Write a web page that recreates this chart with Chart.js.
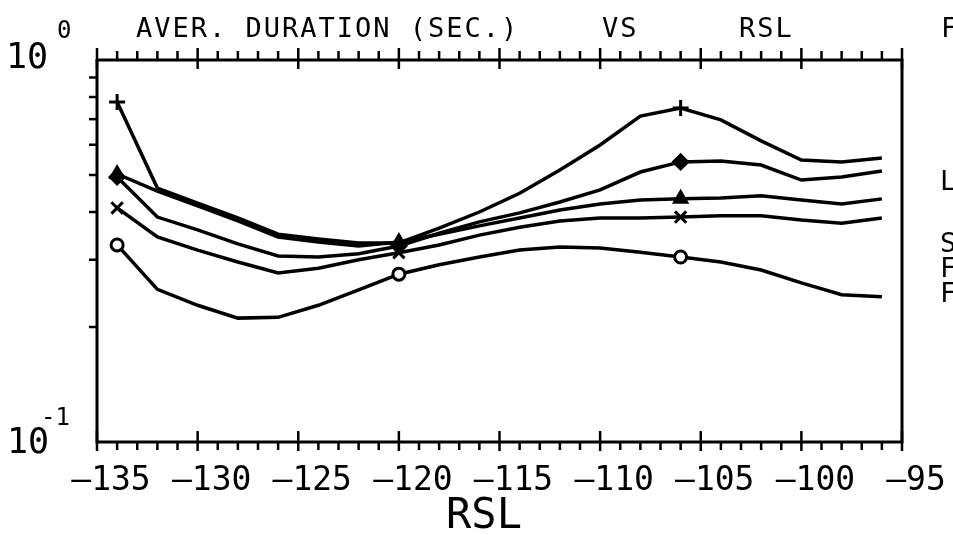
<!DOCTYPE html>
<html lang="en">
<head>
<meta charset="UTF-8">
<title>Aver. duration vs RSL</title>
<script src="https://cdn.jsdelivr.net/npm/chart.js"></script>
<style>
  html, body { margin: 0; padding: 0; background: #fff; }
  #wrap { width: 953px; height: 535px; }
</style>
</head>
<body>
<div id="wrap"><canvas id="durChart" width="953" height="535"></canvas></div>
<script>
// RSL values (x) where each curve has a vertex
const rsl = [-134, -132, -130, -128, -126, -124, -122, -120, -118, -116,
             -114, -112, -110, -108, -106, -104, -102, -100, -98, -96];

// average duration (sec.)
const plusCurve     = [0.776, 0.462, 0.422, 0.386, 0.350, 0.340, 0.332, 0.332, 0.363, 0.400,
                       0.448, 0.515, 0.599, 0.713, 0.749, 0.697, 0.614, 0.547, 0.541, 0.554];
const diamondCurve  = [0.494, 0.388, 0.359, 0.330, 0.307, 0.305, 0.311, 0.326, 0.352, 0.377,
                       0.398, 0.425, 0.457, 0.509, 0.541, 0.544, 0.531, 0.485, 0.494, 0.512];
const triangleCurve = [0.503, 0.454, 0.415, 0.379, 0.344, 0.334, 0.326, 0.334, 0.350, 0.368,
                       0.386, 0.405, 0.420, 0.430, 0.433, 0.435, 0.441, 0.430, 0.420, 0.433];
const crossCurve    = [0.410, 0.344, 0.318, 0.296, 0.277, 0.285, 0.300, 0.313, 0.328, 0.348,
                       0.365, 0.379, 0.386, 0.386, 0.388, 0.391, 0.391, 0.381, 0.374, 0.386];
const circleCurve   = [0.328, 0.251, 0.228, 0.211, 0.212, 0.228, 0.250, 0.275, 0.291, 0.305,
                       0.318, 0.324, 0.322, 0.314, 0.305, 0.296, 0.282, 0.261, 0.243, 0.240];

// symbols are only plotted at these RSL values
const markerAt = [-134, -120, -106];

const xTicks = [-135, -130, -125, -120, -115, -110, -105, -100, -95];
const yTicks = [0.1, 1];

function series(values, style, size, filled) {
    return {
        data: rsl.map((x, i) => ({ x: x, y: values[i] })),
        borderColor: '#000',
        borderWidth: 3.5,
        backgroundColor: filled ? '#000' : '#fff',
        pointStyle: style,
        pointBorderColor: '#000',
        pointBorderWidth: 3,
        pointRadius: rsl.map(x => markerAt.includes(x) ? size : 0),
        tension: 0,
        fill: false
    };
}

const mono = "'DejaVu Sans Mono', 'Liberation Mono', monospace";

const framePlugin = {
    id: 'frame',
    afterDraw(chart) {
        const ctx = chart.ctx;
        const a = chart.chartArea;
        const x = chart.scales.x;
        const y = chart.scales.y;
        ctx.save();
        ctx.strokeStyle = '#000';
        ctx.lineWidth = 3;
        ctx.beginPath();
        ctx.moveTo(a.left, a.top - 1);
        ctx.lineTo(a.left, a.bottom);
        ctx.lineTo(a.right, a.bottom);
        ctx.lineTo(a.right, a.top);
        ctx.lineTo(a.left, a.top);
        ctx.stroke();

        // x ticks, one per dB, top and bottom
        ctx.lineWidth = 2.5;
        for (let v = xTicks[0]; v <= xTicks[xTicks.length - 1]; v++) {
            const px = x.getPixelForValue(v);
            ctx.beginPath();
            if (xTicks.includes(v)) {
                ctx.moveTo(px, a.bottom - 11); ctx.lineTo(px, a.bottom + 9);
                ctx.moveTo(px, a.top - 12); ctx.lineTo(px, a.top + 9);
            } else {
                ctx.moveTo(px, a.bottom); ctx.lineTo(px, a.bottom + 8);
                ctx.moveTo(px, a.top - 9); ctx.lineTo(px, a.top);
            }
            ctx.stroke();
        }
        // y minor ticks (log)
        for (let k = 2; k <= 9; k++) {
            const py = y.getPixelForValue(k / 10);
            ctx.beginPath();
            ctx.moveTo(a.left - 8, py); ctx.lineTo(a.left, py);
            ctx.stroke();
        }

        ctx.fillStyle = '#000';
        ctx.textBaseline = 'alphabetic';
        ctx.textAlign = 'left';

        // y labels 10^0, 10^-1
        const p1 = y.getPixelForValue(yTicks[1]);
        const p0 = y.getPixelForValue(yTicks[0]);
        ctx.font = '35px ' + mono;
        ctx.fillText('10', 6, p1 + 8);
        ctx.fillText('10', 7, p0 + 11);
        ctx.font = '24px ' + mono;
        ctx.fillText('0', 57, p1 - 22);
        ctx.fillText('-1', 41, p0 - 17);

        // title line
        ctx.font = '27px ' + mono;
        ctx.letterSpacing = '2px';
        ctx.fillText('AVER. DURATION (SEC.)', 136, 37);
        ctx.fillText('VS', 602, 37);
        ctx.fillText('RSL', 739, 37);
        // right-hand notes, cut off at the page edge
        ctx.fillText('F', 941, 37);
        ctx.fillText('L', 940, 190);
        ctx.fillText('S', 940, 252);
        ctx.fillText('F', 940, 277);
        ctx.fillText('F', 940, 302);
        ctx.letterSpacing = '0px';

        // x axis title
        ctx.font = '42px ' + mono;
        ctx.textAlign = 'center';
        ctx.fillText('RSL', 484, 528);
        ctx.restore();
    }
};

new Chart(document.getElementById('durChart'), {
    type: 'line',
    data: {
        datasets: [
            series(plusCurve, 'cross', 8, false),
            series(diamondCurve, 'rectRot', 7, true),
            series(triangleCurve, 'triangle', 7, true),
            series(crossCurve, 'crossRot', 8, false),
            series(circleCurve, 'circle', 6, false)
        ]
    },
    options: {
        responsive: false,
        animation: false,
        devicePixelRatio: 1,
        layout: { padding: { top: 60, right: 51, left: 0, bottom: 0 } },
        plugins: { legend: { display: false }, tooltip: { enabled: false } },
        scales: {
            x: {
                type: 'linear',
                position: 'bottom',
                min: xTicks[0],
                max: xTicks[xTicks.length - 1],
                grid: { display: false },
                border: { display: false },
                afterBuildTicks: s => { s.ticks = xTicks.map(v => ({ value: v })); },
                ticks: {
                    autoSkip: false,
                    maxRotation: 0,
                    color: '#000',
                    font: { family: mono, size: 33 },
                    padding: 12,
                    labelOffset: 14,
                    callback: v => (v < 0 ? '\u2013' : '') + Math.abs(v)
                },
                afterFit: s => { s.height = 93; }
            },
            y: {
                type: 'logarithmic',
                min: yTicks[0],
                max: yTicks[1],
                grid: { display: false },
                border: { display: false },
                ticks: { display: false },
                afterFit: s => { s.width = 97; }
            }
        }
    },
    plugins: [framePlugin]
});
</script>
</body>
</html>
